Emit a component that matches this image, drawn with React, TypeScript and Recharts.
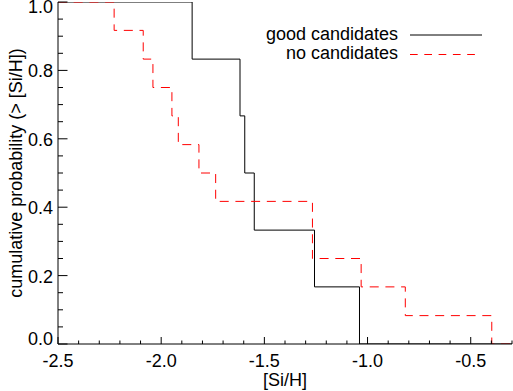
import { LineChart, Line, XAxis, YAxis, Legend } from "recharts";

// step positions ([Si/H]) and cumulative probability after each step
const goodSiH = [-2.5, -1.85, -1.618, -1.595, -1.549, -1.257, -1.039, -0.3];
const goodProb = [1.0, 0.833, 0.667, 0.5, 0.333, 0.167, 0.0, 0.0];

const noneSiH = [-2.5, -2.228, -2.087, -2.04, -1.948, -1.917, -1.817, -1.736, -1.267, -1.031, -0.817, -0.398, -0.3];
const noneProb = [1.0, 0.917, 0.833, 0.75, 0.667, 0.583, 0.5, 0.417, 0.25, 0.167, 0.083, 0.0, 0.0];

const xMajor = [-2.5, -2.0, -1.5, -1.0, -0.5];
const xTicks = [
  -2.5, -2.4, -2.3, -2.2, -2.1, -2.0, -1.9, -1.8, -1.7, -1.6, -1.5, -1.4,
  -1.3, -1.2, -1.1, -1.0, -0.9, -0.8, -0.7, -0.6, -0.5, -0.4, -0.3,
];
const yMajor = [0, 0.2, 0.4, 0.6, 0.8, 1.0];
const yTicks = [
  0, 0.05, 0.1, 0.15, 0.2, 0.25, 0.3, 0.35, 0.4, 0.45, 0.5,
  0.55, 0.6, 0.65, 0.7, 0.75, 0.8, 0.85, 0.9, 0.95, 1.0,
];

const goodData = goodSiH.map((x, i) => ({ x, p: goodProb[i] }));
const noneData = noneSiH.map((x, i) => ({ x, p: noneProb[i] }));

const FONT = "'Liberation Sans', Arial, Helvetica, sans-serif";
const INK = "#000";
const LEGEND_DASH = ["", "7.7 6.6"];

const isMajor = (v: number, majors: number[]) => majors.some((m) => Math.abs(m - v) < 1e-6);

const BottomTick = (props: any) => {
  const { x, y, payload } = props;
  const major = isMajor(payload.value, xMajor);
  return (
    <g>
      <line x1={x} y1={y} x2={x} y2={y - (major ? 7 : 3.5)} stroke={INK} />
      {major && (
        <text x={x} y={y + 23} textAnchor="middle" fontSize={18} fontFamily={FONT} fill="#000">
          {payload.value.toFixed(1)}
        </text>
      )}
    </g>
  );
};

const TopTick = (props: any) => {
  const { x, y, payload } = props;
  const major = isMajor(payload.value, xMajor);
  return <line x1={x} y1={y} x2={x} y2={y + (major ? 7 : 3.5)} stroke={INK} />;
};

const LeftTick = (props: any) => {
  const { x, y, payload } = props;
  const v = payload.value;
  const major = isMajor(v, yMajor);
  // end labels are nudged inside the frame
  const dy = v > 0.99 ? 11 : v < 0.01 ? 1 : 7;
  return (
    <g>
      <line x1={x} y1={y} x2={x + (major ? 9.5 : 5)} y2={y} stroke={INK} />
      {major && (
        <text x={x - 5} y={y + dy} textAnchor="end" fontSize={18} fontFamily={FONT} fill="#000">
          {v.toFixed(1)}
        </text>
      )}
    </g>
  );
};

const RightTick = (props: any) => {
  const { x, y, payload } = props;
  const major = isMajor(payload.value, yMajor);
  return <line x1={x} y1={y} x2={x - (major ? 9.5 : 5)} y2={y} stroke={INK} />;
};

const LegendBox = (props: any) => {
  const { payload = [] } = props;
  return (
    <svg width={513} height={70} style={{ display: "block" }}>
      {payload.map((entry: any, i: number) => {
        const ly = 35 + i * 19.5;
        return (
          <g key={entry.value}>
            <text x={398} y={ly + 4.5} textAnchor="end" fontSize={18} fontFamily={FONT} fill="#000">
              {entry.value}
            </text>
            <line
              x1={410}
              x2={i === 0 ? 482 : 476}
              y1={ly}
              y2={ly}
              stroke={entry.color}
              strokeDasharray={LEGEND_DASH[i] || undefined}
            />
          </g>
        );
      })}
    </svg>
  );
};

export default function App() {
  return (
    <div style={{ position: "absolute", left: 0, top: 0, width: 513, height: 391, background: "#fff" }}>
      <LineChart width={513} height={391} margin={{ top: 2, right: 1, left: 0, bottom: 0 }}>
        <XAxis
          xAxisId="b"
          type="number"
          dataKey="x"
          domain={[-2.5, -0.3]}
          allowDataOverflow
          ticks={xTicks}
          interval={0}
          height={47}
          tickSize={0}
          tickMargin={0}
          tick={<BottomTick />}
          axisLine={{ stroke: INK }}
          label={() => (
            <text x={285} y={386} textAnchor="middle" fontSize={18} fontFamily={FONT} fill="#000">
              [Si/H]
            </text>
          )}
        />
        <XAxis
          xAxisId="t"
          orientation="top"
          type="number"
          dataKey="x"
          domain={[-2.5, -0.3]}
          allowDataOverflow
          ticks={xTicks}
          interval={0}
          height={0}
          tickSize={0}
          tickMargin={0}
          tick={<TopTick />}
          axisLine={{ stroke: INK }}
        />
        <YAxis
          yAxisId="l"
          type="number"
          domain={[0, 1]}
          allowDataOverflow
          ticks={yTicks}
          interval={0}
          width={58}
          tickSize={0}
          tickMargin={0}
          tick={<LeftTick />}
          axisLine={{ stroke: INK }}
          label={() => (
            <text
              x={21.5}
              y={173}
              transform="rotate(-90, 21.5, 173)"
              textAnchor="middle"
              fontSize={18}
              fontFamily={FONT}
              fill="#000"
            >
              cumulative probability (&gt; [Si/H])
            </text>
          )}
        />
        <YAxis
          yAxisId="r"
          orientation="right"
          type="number"
          domain={[0, 1]}
          allowDataOverflow
          ticks={yTicks}
          interval={0}
          width={0}
          tickSize={0}
          tickMargin={0}
          tick={<RightTick />}
          axisLine={{ stroke: INK }}
        />
        <Legend
          layout="horizontal"
          verticalAlign="middle"
          content={<LegendBox />}
          wrapperStyle={{ left: 0, top: 0, width: 513, height: 70 }}
        />
        <Line
          xAxisId="b"
          yAxisId="l"
          data={goodData}
          dataKey="p"
          name="good candidates"
          type="stepAfter"
          stroke="#000"
          strokeWidth={1}
          dot={false}
          activeDot={false}
          isAnimationActive={false}
        />
        <Line
          xAxisId="b"
          yAxisId="l"
          data={noneData}
          dataKey="p"
          name="no candidates"
          type="stepAfter"
          stroke="#ff0000"
          strokeWidth={1}
          strokeDasharray="9 6.7"
          dot={false}
          activeDot={false}
          isAnimationActive={false}
        />
      </LineChart>
    </div>
  );
}
